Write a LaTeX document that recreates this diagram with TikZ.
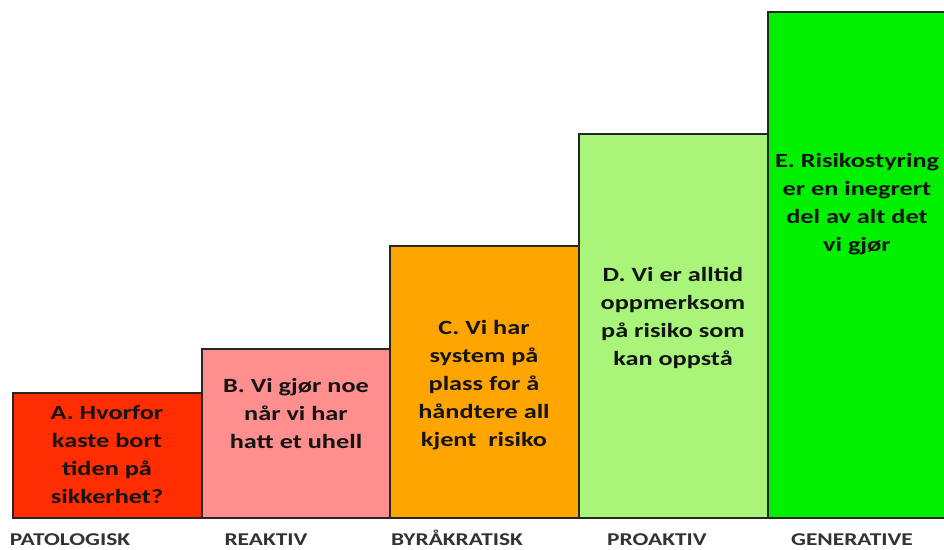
\documentclass[tikz,border=0pt]{standalone}
\usepackage{fontspec}
\setmainfont[FakeStretch=1.3]{Carlito}
\definecolor{colA}{HTML}{FF2D00}
\definecolor{colB}{HTML}{FF8F8F}
\definecolor{colC}{HTML}{FFA500}
\definecolor{colD}{HTML}{A8F57A}
\definecolor{colE}{HTML}{00F000}
\begin{document}
\begin{tikzpicture}[x=1pt,y=-1pt]
\tikzset{
  bar/.style={draw=black!85, line width=1.2pt, inner sep=0pt, outer sep=0pt, anchor=north west},
  txt/.style={font=\bfseries\fontsize{20.2}{28}\selectfont, align=center, text=black!92, inner sep=0pt},
  lab/.style={font=\bfseries\fontsize{18}{20}\selectfont, text=black!80, inner sep=0pt, anchor=base}
}
\useasboundingbox (0,0) rectangle (944,549);
\fill[white] (0,0) rectangle (944,549);
\node[bar, fill=colA, minimum width=189pt, minimum height=125pt] (barA) at (13,393) {};
\node[bar, fill=colB, minimum width=188pt, minimum height=169pt] (barB) at (202,349) {};
\node[bar, fill=colC, minimum width=189pt, minimum height=272pt] (barC) at (390,246) {};
\node[bar, fill=colD, minimum width=189pt, minimum height=384pt] (barD) at (579,134) {};
\node[bar, fill=colE, minimum width=185pt, minimum height=506pt] (barE) at (768,12) {};
\node[txt] (tA) at (107,455) {A. Hvorfor\\kaste bort\\tiden på\\sikkerhet?};
\node[txt] (tB) at (296,413) {B. Vi gjør noe\\når vi har\\hatt et uhell};
\node[txt] (tC) at (484,385) {C. Vi har\\system på\\plass for å\\håndtere all\\kjent\ \ risiko};
\node[txt] (tD) at (673,317.5) {D. Vi er alltid\\oppmerksom\\på risiko som\\kan oppstå};
\node[txt] (tE) at (857,204) {E. Risikostyring\\er en inegrert\\del av alt det\\vi gjør};
\node[lab] (lA) at (70,545) {PATOLOGISK};
\node[lab] (lB) at (266,545) {REAKTIV};
\node[lab] (lC) at (457,545) {BYRÅKRATISK};
\node[lab] (lD) at (657,545) {PROAKTIV};
\node[lab] (lE) at (852,545) {GENERATIVE};
\end{tikzpicture}
\end{document}
